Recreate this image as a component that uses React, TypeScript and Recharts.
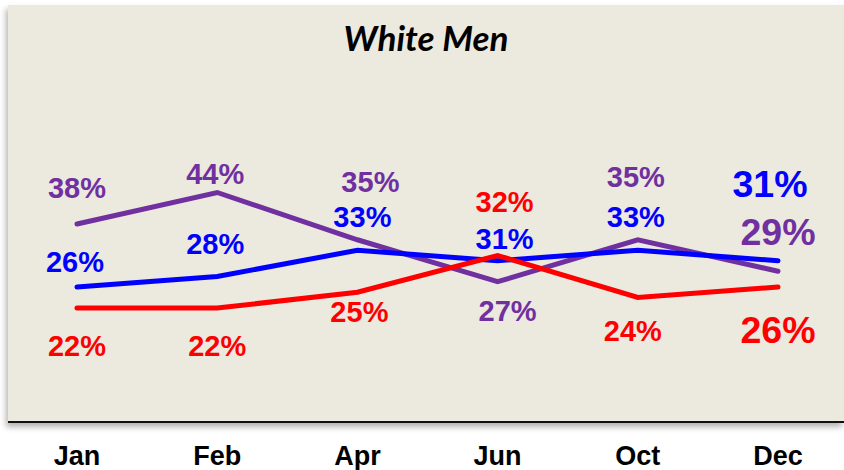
import { LineChart, Line, XAxis, YAxis } from "recharts"

const MONTHS = ["Jan", "Feb", "Apr", "Jun", "Oct", "Dec"]
const PURPLE = [38, 44, 35, 27, 35, 29]
const BLUE = [26, 28, 33, 31, 33, 31]
const RED = [22, 22, 25, 32, 24, 26]

const data = MONTHS.map((m, i) => ({ month: m, purple: PURPLE[i], blue: BLUE[i], red: RED[i] }))

// label placement relative to each point [dx, dy], hand-tuned like the original slide
const PURPLE_OFF = [[0, -36], [-2, -19], [13, -58], [10, 29], [-2, -63], [0, -39]]
const BLUE_OFF = [[-2, -25], [-2, -33], [5, -33], [7, -22], [-2, -33], [-8, -77]]
const RED_OFF = [[0, 38], [0, 38], [2, 20], [7, -54], [-5, 33], [0, 43]]

const FONT = "'Liberation Sans', Arial, sans-serif"

function makeLabel(color: string, offsets: number[][]) {
  return (props: any) => {
    const { x, y, index, value } = props
    const [dx, dy] = offsets[index]
    const last = index === MONTHS.length - 1
    return (
      <text
        key={index}
        x={x + dx}
        y={y + dy}
        fill={color}
        fontFamily={FONT}
        fontWeight="bold"
        fontSize={last ? 37.5 : 29}
        textAnchor="middle"
        dominantBaseline="central"
      >
        {value}%
      </text>
    )
  }
}

function MonthTick(props: any) {
  const { x, y, payload } = props
  return (
    <text x={x} y={y} dy={41} textAnchor="middle" fontFamily={FONT} fontWeight="bold" fontSize={27} fill="#000">
      {payload.value}
    </text>
  )
}

export default function App() {
  return (
    <div style={{ position: "absolute", left: 0, top: 0, width: 844, height: 470, background: "#fff" }}>
      <div
        style={{
          position: "absolute",
          left: 8,
          top: 5,
          width: 836,
          height: 416,
          background: "#ECE9DF",
          borderBottom: "2px solid #111",
          boxShadow: "-2px 4px 6px rgba(0,0,0,0.3)",
        }}
      />
      <div
        style={{
          position: "absolute",
          left: 0,
          top: 16,
          width: 852,
          textAlign: "center",
          fontFamily: "Lato, 'Open Sans', sans-serif",
          fontStyle: "italic",
          fontWeight: "bold",
          fontSize: 35,
          lineHeight: "42px",
          color: "#000",
        }}
      >
        White Men
      </div>
      <div style={{ position: "absolute", left: 0, top: 0 }}>
        <LineChart width={844} height={470} data={data} margin={{ top: 3.5, right: 66, bottom: 0, left: 77 }}>
          <XAxis
            dataKey="month"
            height={46.5}
            axisLine={false}
            tickLine={false}
            tickSize={0}
            tickMargin={0}
            interval={0}
            tick={<MonthTick />}
          />
          <YAxis hide domain={[0, 80]} />
          <Line
            dataKey="purple"
            stroke="#7030A0"
            strokeWidth={5}
            dot={false}
            strokeLinecap="round"
            isAnimationActive={false}
            label={makeLabel("#7030A0", PURPLE_OFF)}
          />
          <Line
            dataKey="blue"
            stroke="#0000FF"
            strokeWidth={5}
            dot={false}
            strokeLinecap="round"
            isAnimationActive={false}
            label={makeLabel("#0000FF", BLUE_OFF)}
          />
          <Line
            dataKey="red"
            stroke="#FF0000"
            strokeWidth={5}
            dot={false}
            strokeLinecap="round"
            isAnimationActive={false}
            label={makeLabel("#FF0000", RED_OFF)}
          />
        </LineChart>
      </div>
    </div>
  )
}
